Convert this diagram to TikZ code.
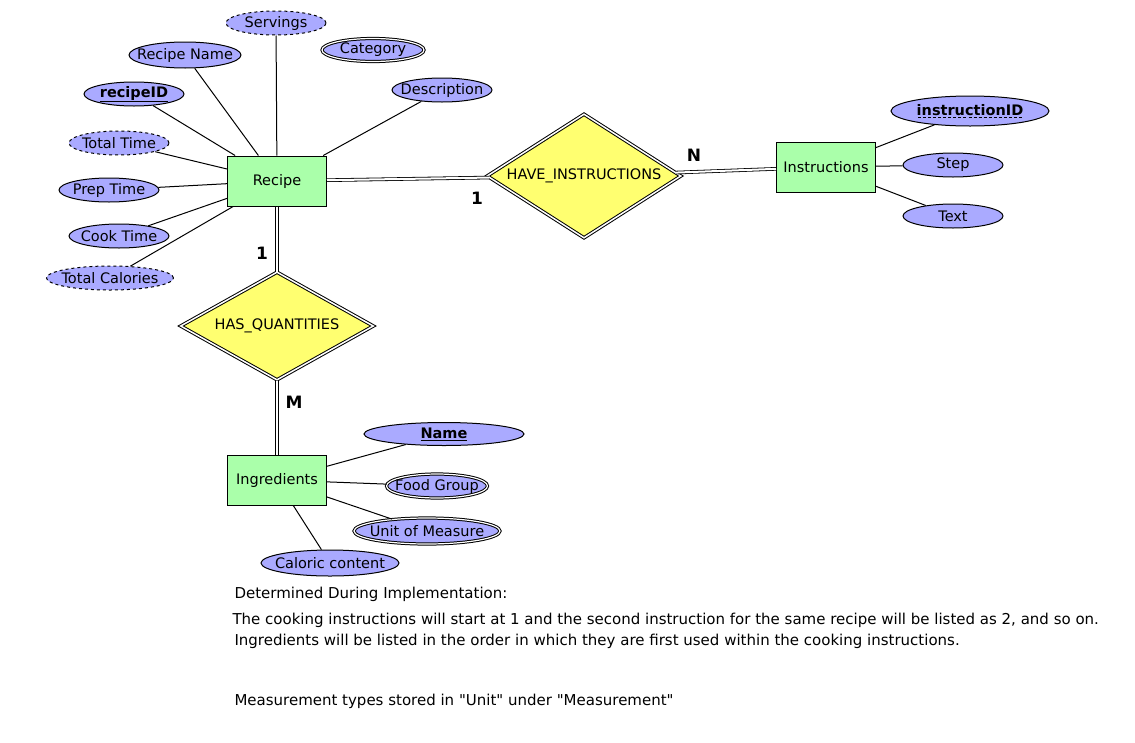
\documentclass[tikz,border=0pt]{standalone}
\usepackage{fontspec}
\setmainfont{DejaVu Sans}
\usepackage{xcolor}
\usetikzlibrary{shapes.geometric}
\definecolor{entgreen}{HTML}{AAFFAA}
\definecolor{attrblue}{HTML}{AAAAFF}
\definecolor{relyellow}{HTML}{FFFF70}
\newcommand{\dashul}[1]{\setbox0=\hbox{#1}\rlap{\copy0}\hbox to \wd0{\xleaders\hbox to 5pt{\hss\rule[-3pt]{3pt}{0.8pt}\hss}\hfill}}

\begin{document}
\begin{tikzpicture}[x=1pt, y=-1pt, line width=1pt,
  every node/.style={font=\fontsize{14.5}{17}\selectfont},
  entity/.style={draw, fill=entgreen, minimum width=99pt, minimum height=50pt, inner sep=0pt},
  attr/.style={draw, ellipse, fill=attrblue, inner xsep=-15pt, inner ysep=-2pt, minimum width=100pt, minimum height=24pt},
  weakattr/.style={attr, dashed},
  multiattr/.style={attr, double=white, double distance=1.2pt},
  relation/.style={draw, diamond, fill=relyellow, double=white, double distance=1.5pt, inner sep=0pt},
  link/.style={double, double distance=2pt, line width=0.8pt},
  card/.style={font=\bfseries\fontsize{17}{19}\selectfont},
  note/.style={anchor=west, inner sep=0pt, font=\fontsize{15}{17}\selectfont}]
  \useasboundingbox (0,0) rectangle (1135,742);
  \node[entity] (recipe) at (277,181) {Recipe};
  \node[entity] (instr) at (826,167) {Instructions};
  \node[entity] (ingr) at (277,480) {Ingredients};
  \node[relation, aspect=1.56, minimum width=194pt, minimum height=124pt] (haveinstr) at (584,176) {HAVE\_INSTRUCTIONS};
  \node[relation, aspect=1.79, minimum width=193pt, minimum height=108pt] (hasqty) at (277,326) {HAS\_QUANTITIES};
  \node[weakattr] (servings) at (276,23) {Servings};
  \node[attr, minimum width=112pt, minimum height=26pt] (rname) at (185,55) {Recipe Name};
  \node[multiattr, minimum width=102pt, minimum height=23pt] (category) at (373,50) {Category};
  \node[attr] (rid) at (134,94) {\bfseries\underline{recipeID}};
  \node[attr] (descr) at (442,90) {Description};
  \node[weakattr] (ttime) at (119,143) {Total Time};
  \node[attr] (ptime) at (109,190) {Prep Time};
  \node[attr] (ctime) at (119,236) {Cook Time};
  \node[weakattr, minimum width=127pt] (tcal) at (110,278) {Total Calories};
  \node[attr, minimum width=158pt, minimum height=30pt] (iid) at (970,111) {\bfseries\dashul{instructionID}};
  \node[attr] (step) at (953,165) {Step};
  \node[attr] (text) at (953,216) {Text};
  \node[attr, minimum width=160pt, minimum height=23pt] (iname) at (444,434) {\bfseries\underline{Name}};
  \node[multiattr, minimum width=101pt] (fgroup) at (437,486) {Food Group};
  \node[multiattr, minimum width=146pt, minimum height=26pt] (unit) at (427,531) {Unit of Measure};
  \node[attr, minimum width=138pt, minimum height=26pt] (calor) at (330,563) {Caloric content};
  \foreach \a in {servings, rname, rid, descr, ttime, ptime, ctime, tcal}
    \draw (\a) -- (recipe);
  \foreach \a in {iid, step, text}
    \draw (\a) -- (instr);
  \foreach \a in {iname, fgroup, unit, calor}
    \draw (\a) -- (ingr);
  \draw[link] (recipe) -- (haveinstr);
  \draw[link] (haveinstr) -- (instr);
  \draw[link] (recipe) -- (hasqty);
  \draw[link] (hasqty) -- (ingr);
  \node[card] (c1) at (477,198) {1};
  \node[card] (cn) at (694,155) {N};
  \node[card] (c2) at (262,253) {1};
  \node[card] (cm) at (294,402) {M};
  \node[note] (n1) at (234,594) {Determined During Implementation:};
  \node[note] (n2) at (232,620) {The cooking instructions will start at 1 and the second instruction for the same recipe will be listed as 2, and so on.};
  \node[note] (n3) at (234,641) {Ingredients will be listed in the order in which they are first used within the cooking instructions.};
  \node[note] (n4) at (234,701) {Measurement types stored in \textquotedbl Unit\textquotedbl{} under \textquotedbl Measurement\textquotedbl};
\end{tikzpicture}
\end{document}
